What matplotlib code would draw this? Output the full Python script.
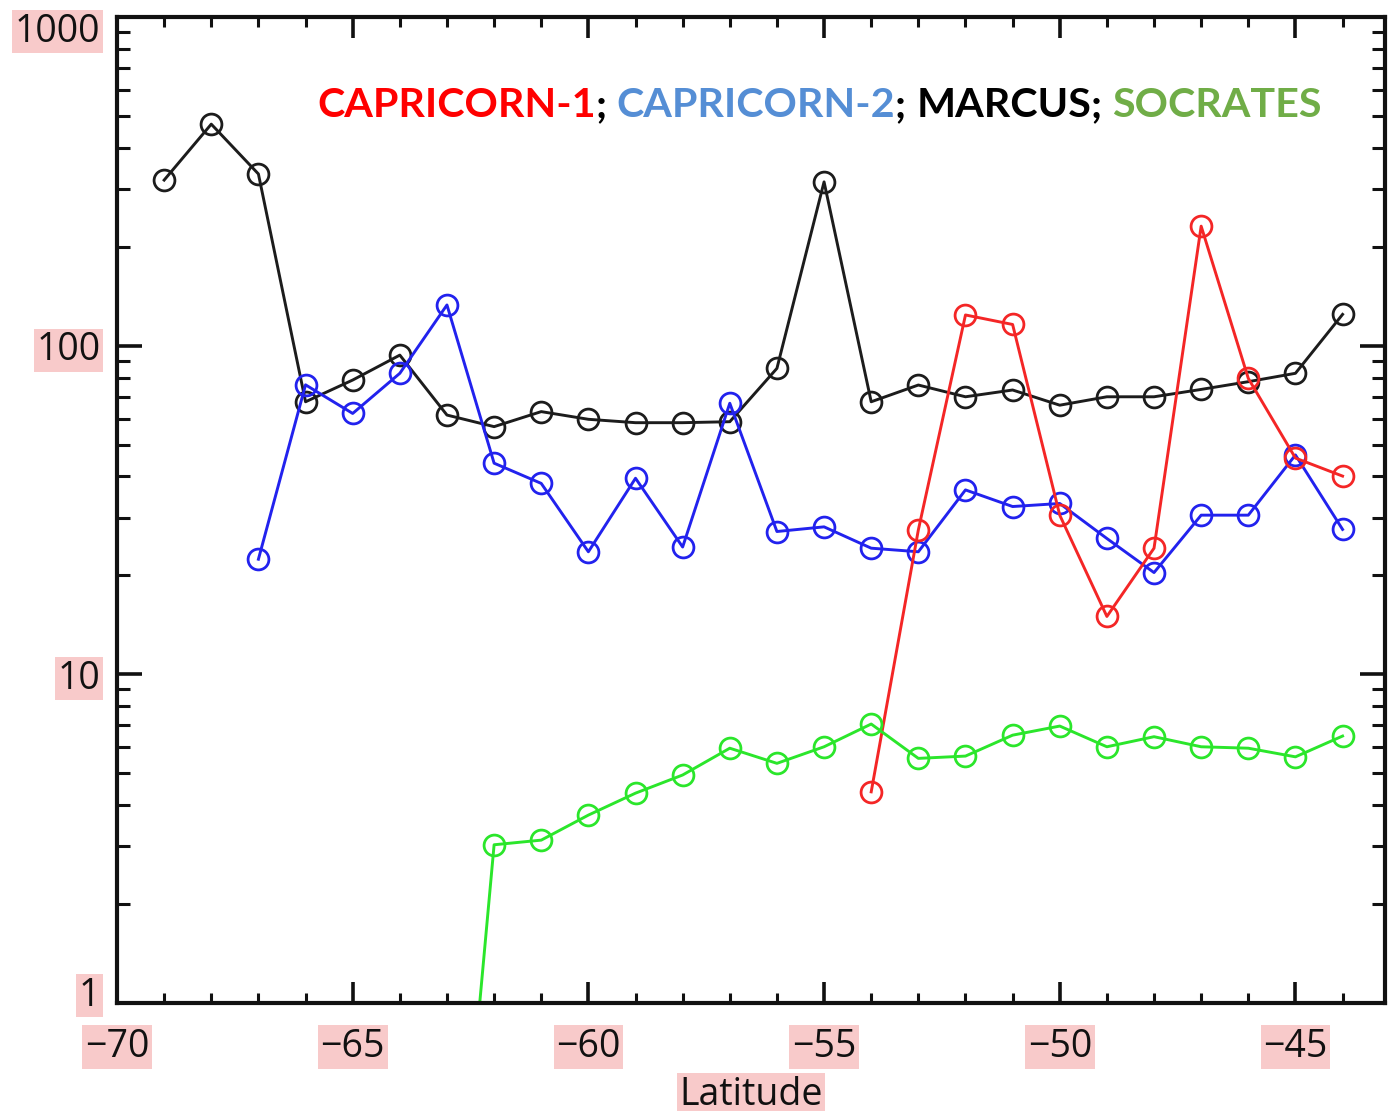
import matplotlib
matplotlib.use('Agg')
import matplotlib.pyplot as plt
from matplotlib.ticker import MultipleLocator, NullFormatter, LogLocator, FixedLocator
import matplotlib.transforms as mtransforms

# ---------------- data ----------------
lat_marcus = list(range(-69, -43))
marcus = [319, 472, 333, 67.5, 78.6, 93.6, 61.5, 56.7, 63, 59.7, 58.3, 58.3, 58.7,
          85.3, 315, 67.5, 75.9, 69.9, 73.3, 65.9, 69.9, 69.9, 73.6, 77.7, 82.4, 124.5]

lat_cap2 = list(range(-67, -43))
capricorn2 = [22.4, 76, 62.2, 82.4, 133, 43.9, 38.1, 23.6, 39.5, 24.4, 66.8, 27.2,
              28.1, 24.2, 23.6, 36.4, 32.4, 33.1, 25.9, 20.4, 30.5, 30.5, 46.5, 27.6]

lat_cap1 = list(range(-54, -43))
capricorn1 = [4.39, 27.5, 124, 116, 30.5, 15.0, 24.2, 231, 79.5, 45.5, 40.1]

lat_soc = list(range(-63, -43))
socrates = [0.08, 3.03, 3.13, 3.73, 4.35, 4.94, 5.96, 5.36, 6.02, 7.06, 5.55, 5.64,
            6.53, 6.96, 6.02, 6.46, 6.02, 5.96, 5.61, 6.49]

x_ticks = [-70, -65, -60, -55, -50, -45]
x_tick_labels = ['\u221270', '\u221265', '\u221260', '\u221255', '\u221250', '\u221245']
y_ticks = [1, 10, 100, 1000]
y_tick_labels = ['1', '10', '100', '1000']
x_label = 'Latitude'
legend_parts = [('CAPRICORN-1', '#FF0000'), ('; ', '#000000'),
                ('CAPRICORN-2', '#558ED5'), ('; ', '#000000'),
                ('MARCUS', '#000000'), ('; ', '#000000'),
                ('SOCRATES', '#70AD47')]

# ---------------- figure ----------------
W, H = 1388, 1111
fig = plt.figure(figsize=(W / 100, H / 100), dpi=100)
ax = fig.add_axes([117 / W, 1 - 1003 / H, (1385 - 117) / W, (1003 - 17) / H])

line_kw = dict(marker='o', markersize=15, markerfacecolor='none',
               markeredgewidth=2.0, linewidth=2.1)
ax.plot(lat_marcus, marcus, color='#1c1c1c', **line_kw)
ax.plot(lat_cap2, capricorn2, color='#2222EE', **line_kw)
ax.plot(lat_cap1, capricorn1, color='#F42626', **line_kw)
ax.plot(lat_soc, socrates, color='#2BE62B', **line_kw)

ax.set_yscale('log')
ax.set_ylim(1, 1000)
ax.set_xlim(-70, -43.1)

ax.xaxis.set_major_locator(FixedLocator(x_ticks))
ax.xaxis.set_minor_locator(MultipleLocator(1))
ax.set_xticklabels(x_tick_labels)
ax.yaxis.set_major_locator(FixedLocator(y_ticks))
ax.yaxis.set_minor_locator(LogLocator(base=10, subs=range(2, 10)))
ax.yaxis.set_minor_formatter(NullFormatter())
ax.set_yticklabels(y_tick_labels)

for s in ax.spines.values():
    s.set_linewidth(3)
    s.set_color('#111111')

ax.tick_params(which='both', direction='in', top=True, right=True, color='#111111')
ax.tick_params(axis='x', which='major', length=15, width=2.6, pad=18)
ax.tick_params(axis='x', which='minor', length=7.5, width=2.2)
ax.tick_params(axis='y', which='major', length=18, width=2.6, pad=12)
ax.tick_params(axis='y', which='minor', length=9.5, width=2.2)

pink = '#F8CACA'
tick_font = dict(family='Open Sans', size=27)
for lab in ax.get_xticklabels() + ax.get_yticklabels():
    lab.set_fontfamily(tick_font['family'])
    lab.set_fontsize(tick_font['size'])
    lab.set_color('#111111')
    lab.set_bbox(dict(facecolor=pink, edgecolor='none', pad=2))

# shift the extreme y labels inward like the reference
ylabs = ax.get_yticklabels()
ylabs[-1].set_transform(ylabs[-1].get_transform() +
                        mtransforms.ScaledTranslation(0, -10 / 100, fig.dpi_scale_trans))
ylabs[0].set_transform(ylabs[0].get_transform() +
                       mtransforms.ScaledTranslation(0, 12 / 100, fig.dpi_scale_trans))

ax.set_xlabel(x_label, fontfamily='Open Sans', fontsize=27, color='#111111', labelpad=7,
              bbox=dict(facecolor=pink, edgecolor='none', pad=2))

# ---------------- coloured legend line ----------------
leg_font = ['Liberation Sans Narrow', 'Lato']
fs = 34
texts = []
t = fig.text(317 / W, 1 - 117 / H, legend_parts[0][0], color=legend_parts[0][1],
             fontsize=fs, fontweight='bold', family=leg_font, va='baseline', ha='left')
texts.append(t)
for txt, col in legend_parts[1:]:
    t = ax.annotate(txt, xy=(1, 0), xycoords=texts[-1], va='bottom', ha='left',
                    color=col, fontsize=fs, fontweight='bold', family=leg_font,
                    annotation_clip=False)
    texts.append(t)

fig.canvas.draw()
r = fig.canvas.get_renderer()
x0 = texts[0].get_window_extent(r).x0
x1 = texts[-1].get_window_extent(r).x1
target = 1322 - 317
newfs = fs * target / (x1 - x0)
for t in texts:
    t.set_fontsize(newfs)

fig.savefig('out.png', dpi=100)
